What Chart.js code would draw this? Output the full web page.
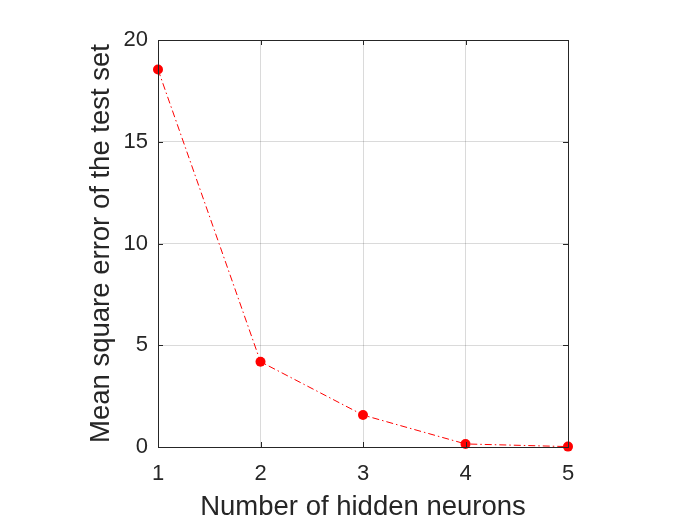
<!DOCTYPE html>
<html>
<head>
<meta charset="utf-8">
<script src="https://cdn.jsdelivr.net/npm/chart.js@4.4.0/dist/chart.umd.min.js"></script>
<style>
  html, body { margin: 0; padding: 0; background: #fff; }
  #wrap { width: 700px; height: 525px; }
</style>
</head>
<body>
<div id="wrap"><canvas id="c" width="700" height="525"></canvas></div>
<script>
const neurons = [1, 2, 3, 4, 5];
const mse = [18.55, 4.19, 1.57, 0.15, 0.02];
const xTicks = [1, 2, 3, 4, 5];
const yTicks = [0, 5, 10, 15, 20];

const font = "'Liberation Sans', Arial, Helvetica, sans-serif";

// box round the axes with inward ticks, MATLAB style
const boxPlugin = {
  id: "box",
  afterDatasetsDraw(chart) {
    const { ctx, chartArea: a, scales } = chart;
    ctx.save();
    ctx.strokeStyle = "#262626";
    ctx.lineWidth = 1;
    ctx.strokeRect(a.left + 0.5, a.top + 0.5, a.right - a.left, a.bottom - a.top);
    const t = 5;
    ctx.beginPath();
    xTicks.forEach((v) => {
      const px = Math.round(scales.x.getPixelForValue(v)) + 0.5;
      ctx.moveTo(px, a.bottom); ctx.lineTo(px, a.bottom - t);
      ctx.moveTo(px, a.top); ctx.lineTo(px, a.top + t);
    });
    yTicks.forEach((v) => {
      const py = Math.round(scales.y.getPixelForValue(v)) + 0.5;
      ctx.moveTo(a.left, py); ctx.lineTo(a.left + t, py);
      ctx.moveTo(a.right, py); ctx.lineTo(a.right - t, py);
    });
    ctx.stroke();
    ctx.restore();
  },
};

new Chart(document.getElementById("c"), {
  type: "line",
  data: {
    datasets: [
      {
        data: neurons.map((x, i) => ({ x: x, y: mse[i] })),
        borderColor: "#ff0000",
        backgroundColor: "#ff0000",
        borderWidth: 1,
        borderDash: [7, 3, 1.5, 3],
        pointRadius: 5,
        pointBorderWidth: 0,
        pointBackgroundColor: "#ff0000",
        tension: 0,
        clip: false,
      },
    ],
  },
  options: {
    responsive: false,
    animation: false,
    layout: { padding: { top: 40, right: 132, left: 0, bottom: 0 } },
    plugins: { legend: { display: false }, tooltip: { enabled: false } },
    scales: {
      x: {
        type: "linear",
        min: 1,
        max: 5,
        afterBuildTicks: (s) => { s.ticks = xTicks.map((v) => ({ value: v })); },
        afterFit: (s) => { s.height = 78; },
        grid: { color: "rgba(38,38,38,0.17)", drawTicks: false },
        border: { display: false },
        ticks: { color: "#262626", font: { family: font, size: 22 }, padding: 14 },
        title: {
          display: true,
          text: "Number of hidden neurons",
          color: "#262626",
          font: { family: font, size: 27.5 },
          padding: { top: 0, bottom: 1 },
        },
      },
      y: {
        min: 0,
        max: 20,
        afterBuildTicks: (s) => { s.ticks = yTicks.map((v) => ({ value: v })); },
        afterFit: (s) => { s.width = 158; },
        grid: { color: "rgba(38,38,38,0.17)", drawTicks: false },
        border: { display: false },
        ticks: { color: "#262626", font: { family: font, size: 22 }, padding: 10 },
        title: {
          display: true,
          text: "Mean square error of the test set",
          color: "#262626",
          font: { family: font, size: 27.5 },
          padding: { top: 85, bottom: 0 },
        },
      },
    },
  },
  plugins: [boxPlugin],
});
</script>
</body>
</html>
